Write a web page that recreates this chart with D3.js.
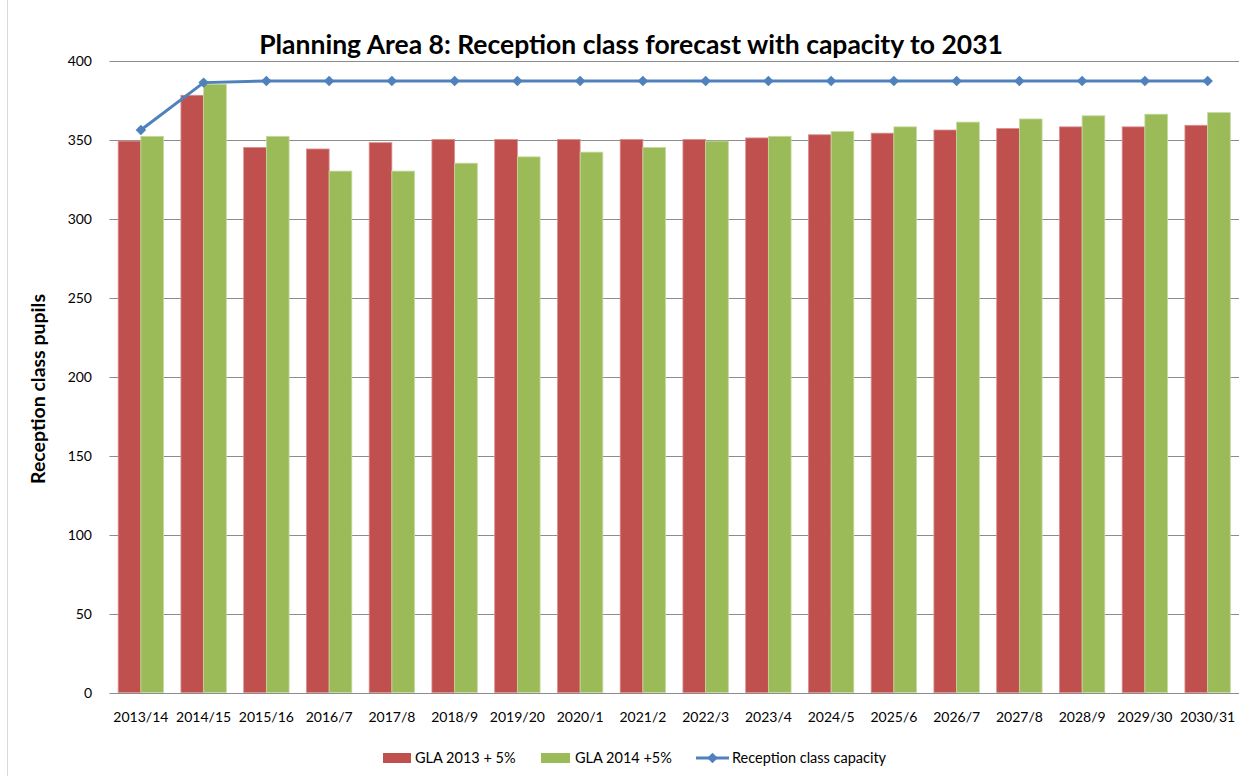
<!DOCTYPE html>
<html>
<head>
<meta charset="utf-8">
<script src="https://cdn.jsdelivr.net/npm/d3@7"></script>
<style>
  body { margin: 0; background: #fff; }
  text { font-family: Lato, "Open Sans", sans-serif; fill: #000; }
</style>
</head>
<body>
<svg id="chart" width="1246" height="776"></svg>
<script>
// data
var years = ["2013/14", "2014/15", "2015/16", "2016/7", "2017/8", "2018/9", "2019/20", "2020/1", "2021/2",
             "2022/3", "2023/4", "2024/5", "2025/6", "2026/7", "2027/8", "2028/9", "2029/30", "2030/31"];
var gla2013 = [349, 378, 345, 344, 348, 350, 350, 350, 350, 350, 351, 353, 354, 356, 357, 358, 358, 359];
var gla2014 = [352, 385, 352, 330, 330, 335, 339, 342, 345, 349, 352, 355, 358, 361, 363, 365, 366, 367];
var capacity = [356, 386, 387, 387, 387, 387, 387, 387, 387, 387, 387, 387, 387, 387, 387, 387, 387, 387];
var yTicks = [0, 50, 100, 150, 200, 250, 300, 350, 400];

var seriesNames = ["GLA 2013 + 5%", "GLA 2014 +5%", "Reception class capacity"];
var colors = { red: "#C0504D", green: "#9BBB59", blue: "#4F81BD" };

var svg = d3.select("#chart");

// outer chart border
svg.append("rect")
    .attr("x", 7.5).attr("y", -1)
    .attr("width", 1260).attr("height", 800)
    .attr("fill", "none")
    .attr("stroke", "#d9d9d9");

var plotLeft = 109.5, plotRight = 1239, plotTop = 60.5, plotBottom = 692.5;

var x = d3.scaleBand()
    .domain(years)
    .range([plotLeft, plotRight])
    .paddingInner(0)
    .paddingOuter(0);

var y = d3.scaleLinear()
    .domain([0, 400])
    .range([plotBottom, plotTop]);

// gridlines
svg.append("g")
    .selectAll("line")
    .data(yTicks)
    .enter()
    .append("line")
    .attr("x1", plotLeft).attr("x2", plotRight)
    .attr("y1", function(d) { return Math.round(y(d)) + 0.5; })
    .attr("y2", function(d) { return Math.round(y(d)) + 0.5; })
    .attr("stroke", "#8c8c8c")
    .attr("stroke-width", 1);

// y tick labels
svg.append("g")
    .selectAll("text")
    .data(yTicks)
    .enter()
    .append("text")
    .attr("x", 92)
    .attr("y", function(d) { return y(d) + 5; })
    .attr("text-anchor", "end")
    .style("font-size", "14px")
    .text(function(d) { return d; });

// bars
var barW = 22.7;
var inner = d3.scaleBand()
    .domain([0, 1])
    .range([x.bandwidth() / 2 - barW, x.bandwidth() / 2 + barW]);

var bars = [
    { values: gla2013, color: colors.red, edge: "#d9918f" },
    { values: gla2014, color: colors.green, edge: "#c6d9a0" }
];

bars.forEach(function(s, si) {
    svg.append("g")
        .selectAll("rect")
        .data(s.values)
        .enter()
        .append("rect")
        .attr("x", function(d, i) { return x(years[i]) + inner(si); })
        .attr("y", function(d) { return y(d); })
        .attr("width", inner.bandwidth())
        .attr("height", function(d) { return y(0) - y(d); })
        .attr("fill", s.color)
        .attr("stroke", s.edge)
        .attr("stroke-width", 0.8);
});

// capacity line
var line = d3.line()
    .x(function(d, i) { return x(years[i]) + x.bandwidth() / 2; })
    .y(function(d) { return y(d); });

svg.append("path")
    .datum(capacity)
    .attr("d", line)
    .attr("fill", "none")
    .attr("stroke", colors.blue)
    .attr("stroke-width", 3);

var diamond = d3.symbol().type(d3.symbolDiamond2).size(70);

svg.append("g")
    .selectAll("path")
    .data(capacity)
    .enter()
    .append("path")
    .attr("d", diamond)
    .attr("transform", function(d, i) {
        return "translate(" + (x(years[i]) + x.bandwidth() / 2) + "," + y(d) + ")";
    })
    .attr("fill", colors.blue);

// x tick labels
svg.append("g")
    .selectAll("text")
    .data(years)
    .enter()
    .append("text")
    .attr("x", function(d) { return x(d) + x.bandwidth() / 2; })
    .attr("y", 722)
    .attr("text-anchor", "middle")
    .style("font-size", "14px")
    .text(function(d) { return d; });

// title
svg.append("text")
    .attr("x", 631)
    .attr("y", 54)
    .attr("text-anchor", "middle")
    .style("font-size", "26.5px")
    .style("font-weight", "bold")
    .text("Planning Area 8: Reception class forecast with capacity to 2031");

// y axis title
svg.append("text")
    .attr("transform", "translate(45,389) rotate(-90)")
    .attr("text-anchor", "middle")
    .style("font-size", "19.5px")
    .style("font-weight", "bold")
    .text("Reception class pupils");

// legend
var legend = svg.append("g");
var legendX = [383, 541, 696];

legend.append("rect")
    .attr("x", legendX[0]).attr("y", 753)
    .attr("width", 28).attr("height", 10)
    .attr("fill", colors.red);
legend.append("rect")
    .attr("x", legendX[1]).attr("y", 753)
    .attr("width", 29).attr("height", 10)
    .attr("fill", colors.green);
legend.append("line")
    .attr("x1", legendX[2]).attr("x2", legendX[2] + 33)
    .attr("y1", 758).attr("y2", 758)
    .attr("stroke", colors.blue)
    .attr("stroke-width", 3);
legend.append("path")
    .attr("d", diamond)
    .attr("transform", "translate(" + (legendX[2] + 16.5) + ",758)")
    .attr("fill", colors.blue);

legend.selectAll("text")
    .data(seriesNames)
    .enter()
    .append("text")
    .attr("x", function(d, i) { return [415, 575, 732][i]; })
    .attr("y", 763)
    .style("font-size", "14.5px")
    .text(function(d) { return d; });
</script>
</body>
</html>
